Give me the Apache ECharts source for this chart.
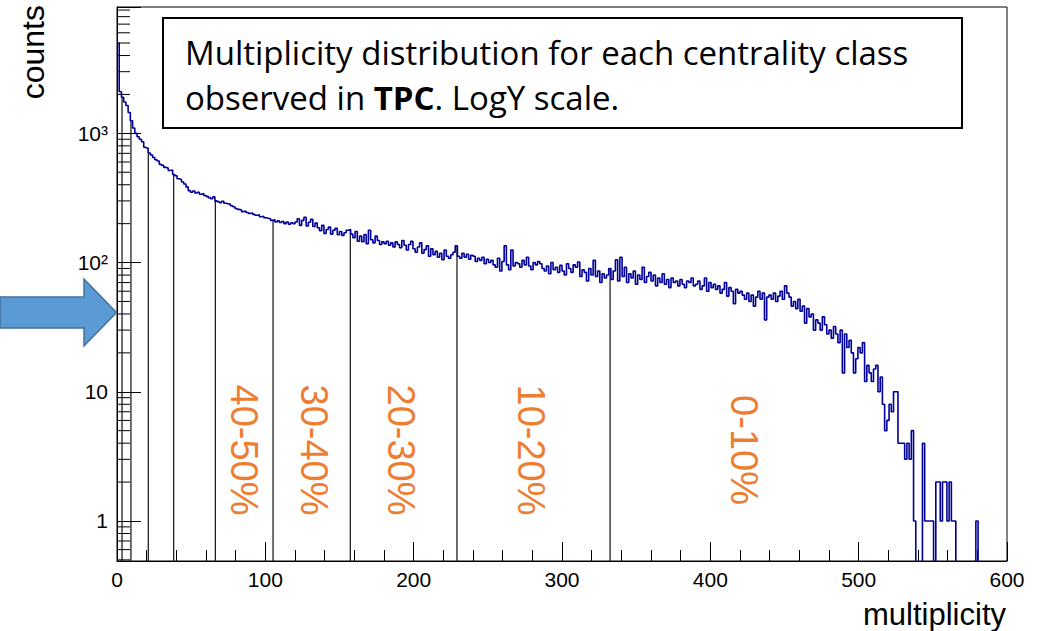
<!DOCTYPE html>
<html>
<head>
<meta charset="utf-8">
<title>Multiplicity distribution per centrality class</title>
<script src="https://cdn.jsdelivr.net/npm/echarts@6.0.0/dist/echarts.min.js"></script>
<style>
  html, body { margin: 0; padding: 0; background: #fff; }
  #chart { width: 1040px; height: 631px; }
</style>
</head>
<body>
<div id="chart"></div>
<script>
// Histogram of track multiplicity, bins of 1.5 from 0 to 600
const binWidth = 1.5;
const counts = [
  5000, 2100, 1900, 1750, 1640, 1450, 1250, 1100, 1000, 940,
  900, 860, 780, 770, 705, 680, 650, 625, 610, 575,
  565, 545, 540, 515, 520, 480, 470, 445, 440, 420,
  405, 385, 360, 350, 358, 345, 350, 338, 342, 330,
  325, 318, 312, 322, 300, 296, 290, 298, 288, 285,
  282, 275, 270, 262, 258, 255, 248, 250, 244, 240,
  242, 236, 232, 234, 226, 228, 222, 220, 218, 212,
  214, 206, 210, 204, 208, 200, 206, 198, 203, 200,
  206, 218, 194, 212, 224, 192, 205, 216, 190, 202,
  186, 176, 194, 168, 180, 188, 166, 178, 184, 164,
  174, 162, 170, 178, 180, 166, 156, 174, 146, 160,
  145, 165, 140, 178, 150, 142, 160, 148, 138, 145,
  140, 146, 136, 142, 132, 145, 138, 130, 148, 136,
  125, 138, 146, 128, 120, 132, 142, 118, 126, 135,
  112, 128, 115, 122, 110, 118, 105, 125, 112, 108,
  115, 120, 135, 112, 108, 118, 110, 116, 106, 114,
  112, 102, 108, 104, 110, 98, 106, 100, 104, 96,
  92, 108, 86, 102, 135, 96, 88, 125, 94, 100,
  98, 92, 104, 96, 110, 94, 88, 100, 96, 102,
  98, 90, 86, 94, 82, 100, 88, 92, 84, 95,
  86, 80, 98, 90, 84, 96, 92, 101, 78, 88,
  84, 72, 90, 80, 104, 78, 86, 70, 82, 76,
  80, 90, 74, 86, 105, 72, 110, 78, 92, 70,
  82, 76, 86, 68, 80, 74, 92, 70, 78, 84,
  72, 80, 66, 76, 70, 82, 68, 74, 64, 76,
  70, 72, 66, 74, 68, 64, 72, 70, 76, 66,
  68, 72, 62, 66, 76, 60, 70, 64, 68, 62,
  66, 58, 62, 70, 55, 64, 60, 48, 62, 58,
  60, 56, 52, 58, 50, 56, 46, 54, 60, 52,
  58, 36, 54, 56, 52, 58, 50, 55, 60, 52,
  66, 58, 54, 46, 50, 44, 52, 42, 46, 34,
  44, 38, 40, 30, 36, 34, 30, 38, 33, 28,
  30, 26, 32, 28, 24, 30, 14, 28, 22, 25,
  20, 14, 18, 22, 20, 24, 12, 16, 14, 12,
  15, 16, 10, 13, 8, 5, 6, 8, 7, 10,
  10, 4, 4, 4, 3, 4, 3, 5, 1, 0,
  0, 0, 4, 1, 1, 1, 1, 0, 2, 2,
  1, 2, 2, 1, 2, 1, 1, 0, 0, 0,
  0, 0, 0, 0, 0, 0, 1, 0, 0, 0,
  0, 0, 0, 0, 0, 0, 0, 0, 0, 0
];

// Multiplicity cuts separating the centrality classes
const classEdges = [3.4, 9.4, 21.1, 38.2, 66.3, 105.2, 157.3, 229.2, 332.4];

// Class names written inside the plot, with the multiplicity they sit at
const classNames = ['40-50%', '30-40%', '20-30%', '10-20%', '0-10%'];
const classLabelX = [85.6, 132.8, 191.5, 279.1, 422.7];
const classLabelY = 3.54;

// Axis ranges
const xMin = 0, xMax = 600, xStep = 100;
const yMin = 0.49, yMax = 9500;

const BLUE_LINE = '#000099';
const FONT = '"Liberation Sans", Arial, Helvetica, sans-serif';

// Step outline: one point per bin low edge, plus the closing edge.
// Empty bins fall below the axis minimum and are clipped at the frame.
const histPoints = counts.map((c, i) => [i * binWidth, c > 0 ? c : yMin / 4]);
const lastCount = counts[counts.length - 1];
histPoints.push([counts.length * binWidth, lastCount > 0 ? lastCount : yMin / 4]);

// Each cut is drawn from the bottom of the frame up to the bin content there
const cutLines = classEdges.map(m => [m, counts[Math.floor(m / binWidth)]]);

// Log-axis minor ticks at 2..9 times each decade
const minorY = [];
for (let e = -1; e <= 3; e++) {
  for (let k = 2; k <= 9; k++) {
    const v = k * Math.pow(10, e);
    if (v > yMin && v < yMax) minorY.push([xMin, v]);
  }
}

const SUP = { 2: '\u00B2', 3: '\u00B3', 4: '\u2074' };
function decadeLabel(v) {
  const e = Math.log10(v);
  const r = Math.round(e);
  if (Math.abs(e - r) > 1e-6) return '';
  if (r === 0) return '1';
  if (r === 1) return '10';
  if (r < 0) return '';
  return '10' + (SUP[r] || '');
}

const chart = echarts.init(document.getElementById('chart'), null, {
  renderer: 'svg', width: 1040, height: 631
});

const option = {
  animation: false,
  backgroundColor: '#fff',
  grid: {
    left: 117, top: 7, right: 33, bottom: 70,
    show: true, borderColor: '#000', borderWidth: 1,
    backgroundColor: 'transparent',
    containLabel: false, outerBoundsMode: 'none'
  },
  xAxis: {
    type: 'value', min: xMin, max: xMax, interval: xStep,
    axisLine: { show: true, onZero: false, lineStyle: { color: '#000', width: 1 } },
    axisTick: { show: true, inside: true, length: 19, lineStyle: { color: '#000', width: 1 } },
    minorTick: { show: true, splitNumber: 5, length: 11, lineStyle: { color: '#000', width: 1 } },
    axisLabel: { margin: 8, color: '#000', fontFamily: FONT, fontSize: 21,
                 showMinLabel: true, showMaxLabel: true },
    splitLine: { show: false }, minorSplitLine: { show: false }
  },
  yAxis: {
    type: 'log', logBase: 10, min: yMin, max: yMax,
    axisLine: { show: true, onZero: false, lineStyle: { color: '#000', width: 1 } },
    axisTick: { show: true, inside: true, length: 24, lineStyle: { color: '#000', width: 1 } },
    minorTick: { show: false },
    axisLabel: { margin: 9, color: '#000', fontFamily: FONT, fontSize: 21,
                 formatter: decadeLabel, showMinLabel: true, showMaxLabel: true },
    splitLine: { show: false }
  },
  series: [
    {
      name: 'minor ticks',
      type: 'custom',
      clip: false,
      silent: true,
      data: minorY,
      renderItem: (params, api) => {
        const p = api.coord([api.value(0), api.value(1)]);
        return {
          type: 'line',
          shape: { x1: p[0], y1: p[1], x2: p[0] + 13, y2: p[1] },
          style: { stroke: '#000', lineWidth: 1 }
        };
      }
    },
    {
      name: 'class cuts',
      type: 'custom',
      clip: true,
      silent: true,
      data: cutLines,
      renderItem: (params, api) => {
        const top = api.coord([api.value(0), api.value(1)]);
        const bot = api.coord([api.value(0), yMin]);
        return {
          type: 'line',
          shape: { x1: top[0], y1: top[1], x2: bot[0], y2: bot[1] },
          style: { stroke: '#111', lineWidth: 1.2 }
        };
      }
    },
    {
      name: 'class names',
      type: 'custom',
      clip: false,
      silent: true,
      data: classLabelX.map(x => [x, classLabelY]),
      renderItem: (params, api) => {
        const p = api.coord([api.value(0), api.value(1)]);
        return {
          type: 'text',
          x: p[0], y: p[1],
          rotation: -Math.PI / 2,
          style: {
            text: classNames[params.dataIndex],
            fill: '#ED7D31',
            fontSize: 38, fontFamily: FONT,
            align: 'center', verticalAlign: 'middle',
            textAlign: 'center', textVerticalAlign: 'middle'
          }
        };
      }
    },
    {
      name: 'multiplicity',
      type: 'line',
      step: 'end',
      data: histPoints,
      symbol: 'none',
      clip: true,
      silent: true,
      lineStyle: { color: BLUE_LINE, width: 1.6 },
      z: 5
    }
  ],
  graphic: [
    {
      type: 'polygon',
      z: 100,
      shape: { points: [[0, 297], [84, 297], [84, 279], [116.5, 312.5], [84, 346], [84, 328], [0, 328]] },
      style: { fill: '#5B9BD5', stroke: '#41719C', lineWidth: 1.5 }
    },
    {
      type: 'rect',
      z: 100,
      shape: { x: 163, y: 18, width: 799, height: 110 },
      style: { fill: '#fff', stroke: '#000', lineWidth: 2 }
    },
    {
      type: 'text',
      z: 101,
      x: 185, y: 30,
      style: {
        text: 'Multiplicity distribution for each centrality class\nobserved in {b|TPC}. LogY scale.',
        fill: '#000', fontSize: 33, fontFamily: '"Open Sans", sans-serif',
        lineHeight: 45,
        align: 'left', verticalAlign: 'top', textAlign: 'left', textVerticalAlign: 'top',
        rich: {
          b: { fontWeight: 'bold', fontSize: 33, fontFamily: '"Open Sans", sans-serif', lineHeight: 45, fill: '#000' }
        }
      }
    },
    {
      type: 'text',
      z: 101,
      x: 33, y: 5,
      rotation: Math.PI / 2,
      style: {
        text: 'counts', fill: '#000', fontSize: 32, fontFamily: FONT,
        align: 'right', verticalAlign: 'middle', textAlign: 'right', textVerticalAlign: 'middle'
      }
    },
    {
      type: 'text',
      z: 101,
      x: 1006, y: 614,
      style: {
        text: 'multiplicity', fill: '#000', fontSize: 31, fontFamily: FONT,
        align: 'right', verticalAlign: 'middle', textAlign: 'right', textVerticalAlign: 'middle'
      }
    }
  ]
};

chart.setOption(option);
</script>
</body>
</html>
